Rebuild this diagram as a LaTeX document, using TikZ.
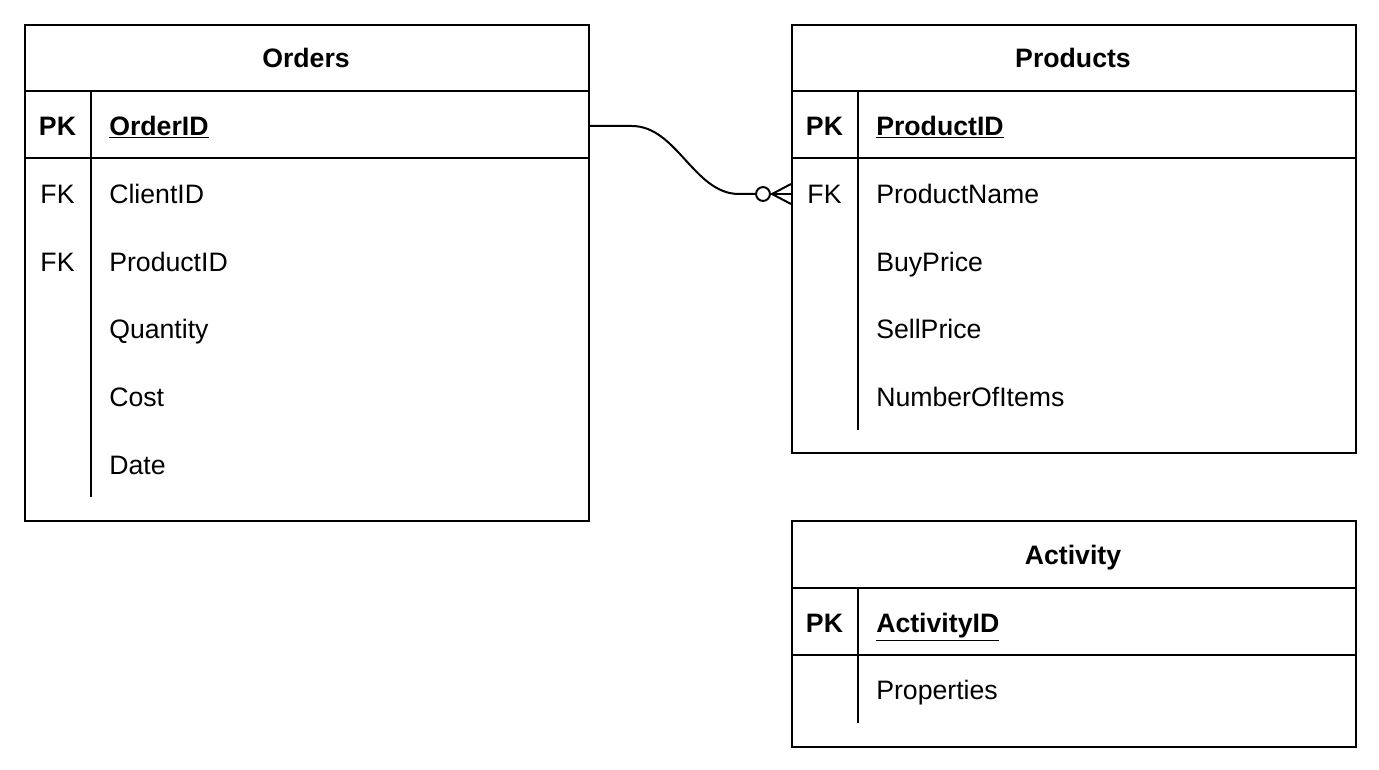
\documentclass[tikz,border=0pt]{standalone}
\usepackage{fontspec}
\setmainfont{Liberation Sans}
\usetikzlibrary{calc}
\begin{document}
\begin{tikzpicture}[x=0.75pt,y=-0.75pt,
  tbl/.style={draw=black, line width=1.4pt, anchor=north west, inner sep=0pt},
  rule/.style={line width=1.4pt},
  txt/.style={inner sep=0pt, text height=14.3pt, text depth=0pt},
  ttl/.style={txt, font=\fontsize{20}{24}\selectfont\bfseries, anchor=center},
  keyc/.style={txt, font=\fontsize{20}{24}\selectfont, anchor=center},
  keyb/.style={keyc, font=\fontsize{20}{24}\selectfont\bfseries},
  fld/.style={txt, font=\fontsize{20}{24}\selectfont, anchor=west},
  fldb/.style={fld, font=\fontsize{20}{24}\selectfont\bfseries},
  conn/.style={line width=1.5pt}]
\useasboundingbox (0,0) rectangle (1379,770);
\fill[white] (0,0) rectangle (1379,770);

% Orders
\node[tbl, minimum width=423pt, minimum height=372pt] (orders) at (24,24) {};
\draw[rule] (24,91) -- (588,91);
\draw[rule] (24,158) -- (588,158);
\draw[rule] (91,91) -- (91,497);
\node[ttl] (ordersT) at (306,58) {Orders};
\node[keyb] (oPK) at (57.5,126) {PK};
\node[fldb] (oid) at (109,126) {\underline{OrderID}};
\node[keyc] (oFK1) at (57.5,194) {FK};
\node[fld] (ocl) at (109,194) {ClientID};
\node[keyc] (oFK2) at (57.5,262) {FK};
\node[fld] (opr) at (109,262) {ProductID};
\node[fld] (oq) at (109,329) {Quantity};
\node[fld] (oc) at (109,397) {Cost};
\node[fld] (od) at (109,465) {Date};

% Products
\node[tbl, minimum width=423pt, minimum height=321pt] (products) at (791,24) {};
\draw[rule] (791,91) -- (1355,91);
\draw[rule] (791,158) -- (1355,158);
\draw[rule] (858,91) -- (858,430);
\node[ttl] (productsT) at (1073,58) {Products};
\node[keyb] (pPK) at (824.5,126) {PK};
\node[fldb] (pid) at (876,126) {\underline{ProductID}};
\node[keyc] (pFK) at (824.5,194) {FK};
\node[fld] (pname) at (876,194) {ProductName};
\node[fld] (pbuy) at (876,262) {BuyPrice};
\node[fld] (psell) at (876,329) {SellPrice};
\node[fld] (pnum) at (876,397) {NumberOfItems};

% Activity
\node[tbl, minimum width=423pt, minimum height=169.5pt] (activity) at (791,520) {};
\draw[rule] (791,588) -- (1355,588);
\draw[rule] (791,655) -- (1355,655);
\draw[rule] (858,588) -- (858,723);
\node[ttl] (activityT) at (1073,555) {Activity};
\node[keyb] (aPK) at (824.5,623) {PK};
\node[fldb] (aid) at (876,623) {\underline{ActivityID}};
\node[fld] (aprop) at (876,690) {Properties};

% Connector
\coordinate (cs) at (orders.east |- oid);
\coordinate (ce) at (products.west |- pname);
\coordinate (cc) at ($(ce)+(-28,0)$);
\draw[conn] (cs) -- ++(42,0) .. controls +(45,0) and +(-45,0) .. ($(cc)+(-24,0)$) -- ($(cc)+(-7,0)$);
\draw[conn] (cc) circle (5.2pt);
\draw[conn] ($(cc)+(7,0)$) -- (ce);
\draw[conn] ($(cc)+(9,0)$) -- ($(ce)+(0,-10)$);
\draw[conn] ($(cc)+(9,0)$) -- ($(ce)+(0,10)$);
\end{tikzpicture}
\end{document}
